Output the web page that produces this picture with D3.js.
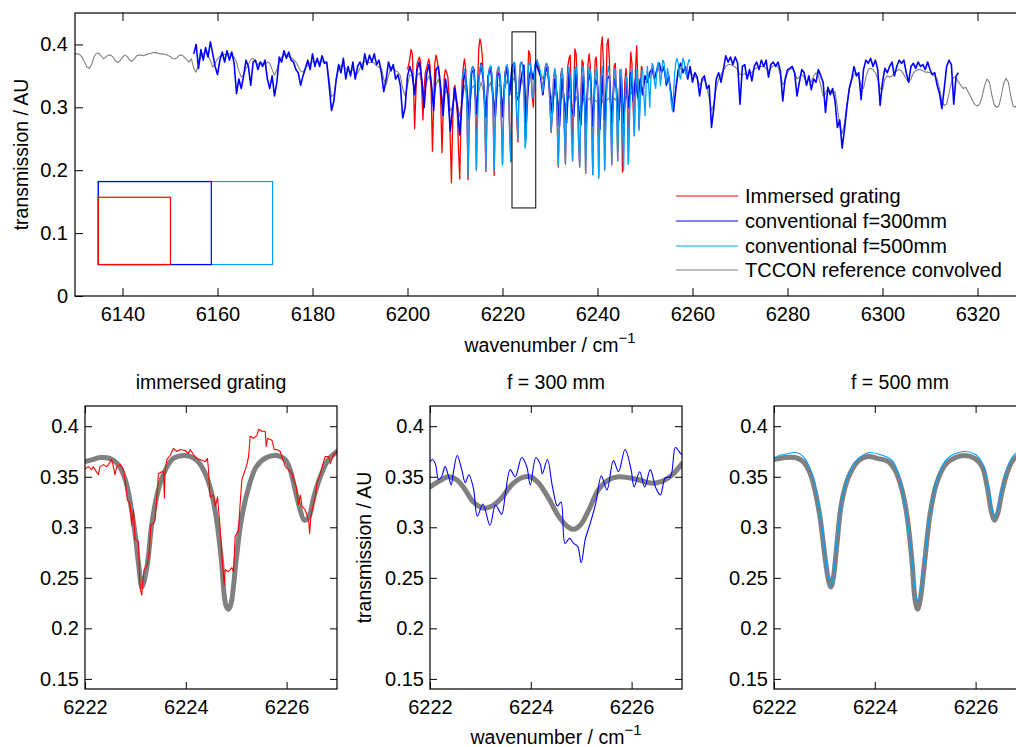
<!DOCTYPE html>
<html>
<head>
<meta charset="utf-8">
<script src="https://cdn.jsdelivr.net/npm/d3@7"></script>
<style>
  html, body { margin: 0; padding: 0; background: #fff; overflow: hidden; }
  svg { display: block; }
</style>
</head>
<body>
<svg id="chart" width="1016" height="747"></svg>
<script>
// ---------------------------------------------------------------------------
// Overview spectra: regularly sampled transmission, [first wavenumber, step]
// ---------------------------------------------------------------------------
const tcconStart = 6130, tcconStep = 0.5;
const tccon = [
  0.385,0.385,0.384,0.380,0.372,0.364,0.362,0.368,0.380,0.386, // 6130
  0.386,0.382,0.377,0.380,0.383,0.383,0.380,0.374,0.371,0.374, // 6135
  0.380,0.383,0.381,0.375,0.373,0.377,0.382,0.383,0.383,0.382, // 6140
  0.384,0.385,0.386,0.387,0.387,0.386,0.385,0.385,0.384,0.383, // 6145
  0.381,0.378,0.377,0.379,0.383,0.383,0.380,0.376,0.372,0.377, // 6150
  0.362,0.356,0.367,0.380,0.386,0.388,0.382,0.375,0.364,0.370, // 6155
  0.377,0.381,0.383,0.384,0.385,0.385,0.384,0.380,0.372,0.358, // 6160
  0.348,0.352,0.362,0.368,0.376,0.378,0.372,0.368,0.372,0.370, // 6165
  0.368,0.372,0.370,0.360,0.351,0.360,0.372,0.380,0.383,0.383, // 6170
  0.381,0.379,0.376,0.372,0.365,0.358,0.356,0.362,0.367,0.370, // 6175
  0.372,0.373,0.372,0.372,0.373,0.373,0.370,0.345,0.317,0.320, // 6180
  0.345,0.360,0.367,0.366,0.362,0.358,0.357,0.360,0.356,0.354, // 6185
  0.362,0.370,0.373,0.372,0.371,0.372,0.370,0.366,0.364,0.362, // 6190
  0.345,0.336,0.350,0.364,0.362,0.358,0.356,0.350,0.330,0.318, // 6195
  0.335,0.352,0.350,0.330,0.350,0.355,0.340,0.320,0.340,0.350, // 6200
  0.335,0.312,0.335,0.345,0.330,0.305,0.325,0.325,0.295,0.300, // 6205
  0.320,0.305,0.285,0.310,0.335,0.320,0.295,0.330,0.335,0.300, // 6210
  0.325,0.340,0.325,0.295,0.330,0.340,0.315,0.300,0.335,0.335, // 6215
  0.305,0.330,0.345,0.325,0.339,0.348,0.322,0.323,0.349,0.330, // 6220
  0.300,0.333,0.350,0.344,0.363,0.365,0.355,0.345,0.355,0.350, // 6225
  0.325,0.310,0.325,0.315,0.300,0.320,0.310,0.300,0.320,0.305, // 6230
  0.300,0.318,0.302,0.298,0.315,0.298,0.312,0.315,0.296,0.312, // 6235
  0.308,0.295,0.312,0.300,0.312,0.315,0.300,0.315,0.310,0.300, // 6240
  0.318,0.300,0.318,0.310,0.325,0.318,0.330,0.322,0.335,0.330, // 6245
  0.340,0.342,0.348,0.355,0.350,0.356,0.362,0.358,0.360,0.348, // 6250
  0.345,0.320,0.300,0.330,0.355,0.362,0.360,0.360,0.355,0.355, // 6255
  0.352,0.350,0.345,0.335,0.342,0.345,0.332,0.315,0.295,0.305, // 6260
  0.330,0.345,0.352,0.358,0.365,0.368,0.368,0.366,0.364,0.360, // 6265
  0.352,0.352,0.354,0.350,0.352,0.356,0.360,0.363,0.364,0.365, // 6270
  0.365,0.362,0.358,0.363,0.366,0.367,0.364,0.352,0.336,0.342, // 6275
  0.355,0.360,0.362,0.355,0.345,0.348,0.352,0.348,0.340,0.345, // 6280
  0.340,0.350,0.355,0.350,0.335,0.318,0.322,0.330,0.326,0.322, // 6285
  0.325,0.300,0.270,0.258,0.275,0.305,0.328,0.342,0.352,0.355, // 6290
  0.348,0.335,0.330,0.348,0.360,0.362,0.360,0.355,0.345,0.330, // 6295
  0.328,0.345,0.350,0.348,0.350,0.355,0.358,0.360,0.358,0.352, // 6300
  0.345,0.340,0.345,0.355,0.358,0.360,0.360,0.358,0.356,0.356, // 6305
  0.355,0.352,0.350,0.345,0.330,0.310,0.303,0.305,0.322,0.340, // 6310
  0.348,0.347,0.340,0.335,0.330,0.332,0.325,0.318,0.310,0.304, // 6315
  0.302,0.306,0.318,0.335,0.345,0.340,0.320,0.305,0.300,0.302, // 6320
  0.318,0.338,0.346,0.340,0.318,0.302,0.300,0.310,0.330,0.345, // 6325
  0.348                                                        // 6330
];

const f300Start = 6155, f300Step = 0.5;
const f300 = [
  0.385,0.400,0.362,0.392,0.375,0.395,0.380,0.404,0.385,0.365, // 6155
  0.352,0.375,0.388,0.372,0.390,0.375,0.388,0.370,0.322,0.345, // 6160
  0.330,0.350,0.375,0.365,0.335,0.372,0.375,0.360,0.372,0.365, // 6165
  0.375,0.345,0.330,0.350,0.318,0.340,0.380,0.372,0.390,0.378, // 6170
  0.388,0.375,0.372,0.360,0.355,0.335,0.350,0.362,0.375,0.360, // 6175
  0.385,0.365,0.378,0.365,0.382,0.370,0.372,0.335,0.295,0.310, // 6180
  0.345,0.368,0.355,0.378,0.345,0.365,0.350,0.372,0.345,0.365, // 6185
  0.372,0.360,0.385,0.368,0.383,0.372,0.385,0.368,0.375,0.355, // 6190
  0.325,0.345,0.372,0.358,0.368,0.345,0.352,0.335,0.283,0.300, // 6195
  0.350,0.365,0.352,0.320,0.360,0.372,0.345,0.300,0.352,0.368, // 6200
  0.340,0.295,0.360,0.365,0.330,0.287,0.345,0.320,0.262,0.300, // 6205
  0.330,0.300,0.256,0.310,0.360,0.330,0.280,0.355,0.360,0.290, // 6210
  0.345,0.370,0.340,0.285,0.350,0.365,0.320,0.285,0.355,0.350, // 6215
  0.285,0.345,0.365,0.320,0.365,0.371,0.312,0.318,0.350,0.367, // 6220
  0.275,0.345,0.360,0.345,0.372,0.360,0.350,0.320,0.355,0.365, // 6225
  0.320,0.290,0.345,0.320,0.270,0.345,0.310,0.275,0.355,0.300, // 6230
  0.285,0.360,0.300,0.272,0.350,0.275,0.340,0.355,0.270,0.345, // 6235
  0.335,0.265,0.350,0.280,0.345,0.350,0.275,0.345,0.330,0.280, // 6240
  0.350,0.275,0.340,0.300,0.355,0.310,0.345,0.315,0.345,0.320, // 6245
  0.350,0.340,0.355,0.362,0.345,0.360,0.370,0.355,0.365,0.335, // 6250
  0.350,0.320,0.293,0.330,0.360,0.370,0.355,0.365,0.345,0.365, // 6255
  0.340,0.355,0.348,0.318,0.345,0.350,0.330,0.335,0.268,0.300, // 6260
  0.345,0.355,0.340,0.360,0.382,0.372,0.380,0.368,0.380,0.370, // 6265
  0.305,0.365,0.368,0.345,0.360,0.342,0.365,0.372,0.360,0.375, // 6270
  0.365,0.375,0.348,0.368,0.372,0.365,0.372,0.358,0.310,0.345, // 6275
  0.360,0.362,0.365,0.355,0.318,0.340,0.360,0.355,0.335,0.350, // 6280
  0.328,0.345,0.340,0.360,0.350,0.340,0.292,0.332,0.320,0.330, // 6285
  0.310,0.268,0.280,0.235,0.265,0.300,0.330,0.345,0.365,0.350, // 6290
  0.355,0.312,0.360,0.375,0.370,0.378,0.365,0.375,0.360,0.303, // 6295
  0.340,0.362,0.355,0.365,0.372,0.350,0.365,0.375,0.370,0.375, // 6300
  0.355,0.340,0.365,0.370,0.362,0.372,0.365,0.368,0.360,0.372, // 6305
  0.360,0.352,0.355,0.335,0.322,0.298,0.330,0.365,0.375,0.368, // 6310
  0.305,0.350,0.355                                            // 6315
];

const immersedStart = 6200, immersedStep = 0.25;
const immersed = [
  0.360,0.368,0.378,0.392,0.385,0.340,0.266,0.320, // 6200
  0.368,0.375,0.380,0.372,0.330,0.280,0.330,0.355, // 6202
  0.362,0.370,0.377,0.365,0.320,0.230,0.300,0.370, // 6204
  0.383,0.375,0.360,0.350,0.310,0.228,0.290,0.350, // 6206
  0.360,0.355,0.348,0.320,0.250,0.180,0.270,0.330, // 6208
  0.335,0.310,0.290,0.230,0.186,0.280,0.340,0.365, // 6210
  0.377,0.360,0.300,0.185,0.280,0.345,0.360,0.365, // 6212
  0.360,0.330,0.200,0.330,0.393,0.409,0.400,0.380, // 6214
  0.340,0.290,0.198,0.300,0.350,0.362,0.365,0.350, // 6216
  0.300,0.192,0.300,0.350,0.362,0.360,0.340,0.280, // 6218
  0.210,0.300,0.355,0.362,0.365,0.340,0.260,0.215, // 6220
  0.355,0.358,0.360,0.345,0.280,0.245,0.340,0.368, // 6222
  0.372,0.368,0.345,0.250,0.290,0.330,0.390,0.385, // 6224
  0.362,0.318,0.300,0.350,0.372,0.375,0.370,0.360, // 6226
  0.350,0.340,0.330,0.348,0.362,0.370,0.365,0.345, // 6228
  0.300,0.260,0.290,0.345,0.360,0.345,0.280,0.205, // 6230
  0.290,0.350,0.362,0.345,0.270,0.210,0.310,0.365, // 6232
  0.378,0.383,0.320,0.215,0.330,0.393,0.385,0.340, // 6234
  0.250,0.205,0.320,0.375,0.370,0.320,0.195,0.290, // 6236
  0.370,0.385,0.365,0.290,0.193,0.310,0.375,0.380, // 6238
  0.340,0.190,0.300,0.395,0.412,0.370,0.200,0.300, // 6240
  0.400,0.409,0.375,0.300,0.210,0.310,0.365,0.370, // 6242
  0.320,0.215,0.300,0.360,0.350,0.197,0.260,0.340, // 6244
  0.362,0.330,0.210,0.340,0.388,0.370,0.300,0.255, // 6246
  0.360,0.398,0.340,0.266,0.330,0.365,0.360        // 6248
];

const f500Start = 6211.5, f500Step = 0.25;
const f500 = [
  0.345,0.355,0.360,0.350,0.300,0.190,0.290,0.345, // 6211.5
  0.362,0.365,0.355,0.320,0.200,0.280,0.340,0.360, // 6213.5
  0.368,0.362,0.345,0.300,0.200,0.295,0.345,0.362, // 6215.5
  0.366,0.355,0.310,0.200,0.300,0.345,0.362,0.365, // 6217.5
  0.350,0.290,0.208,0.300,0.350,0.365,0.368,0.350, // 6219.5
  0.260,0.213,0.330,0.365,0.372,0.360,0.290,0.250, // 6221.5
  0.340,0.370,0.372,0.362,0.330,0.235,0.250,0.330, // 6223.5
  0.366,0.373,0.360,0.318,0.315,0.355,0.372,0.375, // 6225.5
  0.370,0.365,0.355,0.340,0.325,0.345,0.365,0.370, // 6227.5
  0.365,0.345,0.300,0.262,0.290,0.345,0.362,0.350, // 6229.5
  0.290,0.208,0.290,0.345,0.362,0.345,0.270,0.213, // 6231.5
  0.310,0.355,0.365,0.345,0.260,0.215,0.320,0.360, // 6233.5
  0.365,0.340,0.250,0.205,0.310,0.358,0.365,0.330, // 6235.5
  0.195,0.280,0.345,0.365,0.355,0.290,0.193,0.300, // 6237.5
  0.355,0.362,0.335,0.187,0.280,0.350,0.365,0.345, // 6239.5
  0.200,0.270,0.348,0.365,0.355,0.290,0.208,0.300, // 6241.5
  0.355,0.362,0.320,0.215,0.300,0.355,0.360,0.290, // 6243.5
  0.200,0.300,0.350,0.345,0.210,0.280,0.345,0.362, // 6245.5
  0.330,0.255,0.320,0.360,0.345,0.263,0.310,0.355, // 6247.5
  0.360,0.320,0.287,0.335,0.365,0.340,0.300,0.345, // 6249.5
  0.370,0.365,0.340,0.330,0.360,0.372,0.362,0.335, // 6251.5
  0.355,0.375,0.372,0.350,0.340,0.362,0.350,0.330, // 6253.5
  0.310,0.295,0.320,0.355,0.372,0.378,0.370,0.350, // 6255.5
  0.345,0.365,0.378,0.372,0.355,0.350,0.368,0.376, // 6257.5
  0.372                                            // 6259.5
];

// Spectrometer footprint boxes and the zoom window drawn in the overview
const footprintNames = ["f500", "f300", "immersed"];
const footprintX0 = [6134.9, 6134.9, 6134.9];
const footprintX1 = [6171.6, 6158.7, 6150.1];
const footprintY0 = [0.05, 0.05, 0.05];
const footprintY1 = [0.182, 0.182, 0.157];
const zoomWindow = [6222, 6227, 0.14, 0.42];

const topXTicks = [6140, 6160, 6180, 6200, 6220, 6240, 6260, 6280, 6300, 6320];
const topYTicks = [0, 0.1, 0.2, 0.3, 0.4];
const legendLabels = ["Immersed grating", "conventional f=300mm", "conventional f=500mm", "TCCON reference convolved"];

// ---------------------------------------------------------------------------
// Detail window 6222-6227 cm-1: [wavenumber, transmission]
// ---------------------------------------------------------------------------
const refImmersed = [
  [6222.0,0.365],[6222.15,0.367],[6222.3,0.369],[6222.5,0.368],[6222.66,0.362],[6222.8,0.347],
  [6222.9,0.324],[6223.0,0.291],[6223.06,0.265],[6223.13,0.241],[6223.23,0.261],[6223.32,0.301],
  [6223.42,0.330],[6223.56,0.353],[6223.75,0.368],[6224.0,0.371],[6224.2,0.367],[6224.35,0.357],
  [6224.48,0.340],[6224.6,0.311],[6224.7,0.271],[6224.8,0.222],[6224.85,0.219],[6224.9,0.225],
  [6225.0,0.268],[6225.1,0.307],[6225.25,0.340],[6225.4,0.360],[6225.6,0.369],[6225.8,0.371],
  [6225.97,0.367],[6226.07,0.357],[6226.17,0.337],[6226.27,0.317],[6226.35,0.307],[6226.44,0.310],
  [6226.54,0.330],[6226.67,0.350],[6226.83,0.367],[6227.0,0.375]
];
const measImmersed = [
  [6222.000,0.358],[6222.066,0.360],[6222.132,0.357],[6222.166,0.360],[6222.199,0.357],[6222.265,0.352],
  [6222.298,0.360],[6222.364,0.362],[6222.430,0.360],[6222.464,0.362],[6222.530,0.367],[6222.563,0.360],
  [6222.596,0.352],[6222.629,0.360],[6222.695,0.362],[6222.762,0.357],[6222.795,0.347],[6222.841,0.327],
  [6222.894,0.324],[6222.927,0.302],[6222.960,0.317],[6222.993,0.288],[6223.060,0.286],[6223.079,0.258],
  [6223.093,0.240],[6223.126,0.233],[6223.146,0.245],[6223.172,0.258],[6223.225,0.261],[6223.272,0.274],
  [6223.305,0.302],[6223.358,0.304],[6223.391,0.307],[6223.424,0.327],[6223.457,0.353],[6223.523,0.355],
  [6223.556,0.355],[6223.576,0.329],[6223.589,0.355],[6223.623,0.367],[6223.689,0.371],[6223.755,0.378],
  [6223.821,0.375],[6223.887,0.377],[6223.987,0.376],[6224.053,0.373],[6224.086,0.377],[6224.152,0.372],
  [6224.219,0.368],[6224.285,0.367],[6224.384,0.365],[6224.430,0.368],[6224.450,0.357],[6224.483,0.330],
  [6224.550,0.332],[6224.583,0.321],[6224.603,0.324],[6224.629,0.330],[6224.682,0.299],[6224.715,0.273],
  [6224.735,0.260],[6224.762,0.243],[6224.781,0.258],[6224.848,0.256],[6224.914,0.260],[6224.947,0.256],
  [6224.980,0.291],[6225.013,0.294],[6225.046,0.297],[6225.079,0.324],[6225.113,0.347],[6225.179,0.357],
  [6225.212,0.362],[6225.245,0.370],[6225.278,0.390],[6225.344,0.388],[6225.411,0.391],[6225.444,0.397],
  [6225.510,0.395],[6225.576,0.395],[6225.596,0.380],[6225.623,0.388],[6225.709,0.386],[6225.755,0.377],
  [6225.808,0.377],[6225.874,0.375],[6225.927,0.367],[6225.974,0.360],[6226.040,0.357],[6226.106,0.353],
  [6226.139,0.347],[6226.192,0.340],[6226.238,0.322],[6226.272,0.332],[6226.305,0.321],[6226.371,0.317],
  [6226.437,0.307],[6226.457,0.294],[6226.483,0.311],[6226.536,0.324],[6226.570,0.330],[6226.603,0.344],
  [6226.669,0.353],[6226.735,0.365],[6226.768,0.370],[6226.834,0.370],[6226.868,0.363],[6226.934,0.372],
  [6227.000,0.375]
];
const ref300 = [
  [6222.0,0.340],[6222.23,0.347],[6222.36,0.350],[6222.53,0.347],[6222.7,0.337],[6222.86,0.325],
  [6223.06,0.319],[6223.23,0.321],[6223.42,0.329],[6223.62,0.342],[6223.82,0.349],[6223.99,0.350],
  [6224.15,0.344],[6224.35,0.329],[6224.55,0.311],[6224.72,0.301],[6224.85,0.298],[6224.98,0.302],
  [6225.15,0.317],[6225.34,0.337],[6225.54,0.347],[6225.74,0.350],[6225.94,0.349],[6226.14,0.347],
  [6226.34,0.344],[6226.5,0.344],[6226.67,0.347],[6226.83,0.353],[6227.0,0.363]
];
const meas300 = [
  [6222.00,0.365],[6222.05,0.367],[6222.11,0.362],[6222.17,0.347],[6222.23,0.350],[6222.30,0.360],
  [6222.36,0.352],[6222.42,0.342],[6222.46,0.353],[6222.54,0.371],[6222.63,0.357],[6222.70,0.344],
  [6222.77,0.352],[6222.86,0.339],[6222.94,0.311],[6223.05,0.323],[6223.19,0.302],[6223.30,0.322],
  [6223.42,0.313],[6223.50,0.335],[6223.59,0.357],[6223.69,0.350],[6223.82,0.369],[6223.92,0.360],
  [6223.99,0.342],[6224.10,0.369],[6224.19,0.362],[6224.23,0.353],[6224.33,0.367],[6224.43,0.340],
  [6224.53,0.321],[6224.60,0.325],[6224.68,0.284],[6224.77,0.289],[6224.85,0.284],[6224.93,0.281],
  [6225.00,0.265],[6225.08,0.288],[6225.18,0.304],[6225.29,0.324],[6225.40,0.351],[6225.51,0.337],
  [6225.64,0.366],[6225.74,0.355],[6225.87,0.377],[6225.99,0.357],[6226.05,0.340],[6226.16,0.355],
  [6226.26,0.340],[6226.37,0.357],[6226.48,0.339],[6226.57,0.332],[6226.67,0.349],[6226.77,0.350],
  [6226.87,0.379],[6226.97,0.373],[6227.00,0.372]
];
const ref500 = [
  [6222.0,0.367],[6222.22,0.369],[6222.42,0.369],[6222.58,0.365],[6222.72,0.353],[6222.81,0.337],
  [6222.91,0.311],[6223.01,0.271],[6223.08,0.248],[6223.13,0.241],[6223.18,0.251],[6223.25,0.284],
  [6223.34,0.324],[6223.48,0.350],[6223.68,0.366],[6223.87,0.370],[6224.07,0.368],[6224.27,0.365],
  [6224.4,0.357],[6224.54,0.337],[6224.64,0.311],[6224.74,0.265],[6224.8,0.228],[6224.85,0.219],
  [6224.9,0.228],[6225.0,0.271],[6225.1,0.314],[6225.23,0.344],[6225.4,0.362],[6225.6,0.369],
  [6225.79,0.371],[6225.99,0.368],[6226.13,0.360],[6226.23,0.340],[6226.32,0.314],[6226.38,0.307],
  [6226.44,0.314],[6226.52,0.334],[6226.62,0.353],[6226.75,0.367],[6226.92,0.372],[6227.0,0.373]
];
const meas500 = [
  [6222.0,0.368],[6222.1,0.371],[6222.2,0.372],[6222.3,0.373],[6222.4,0.374],[6222.5,0.373],
  [6222.6,0.369],[6222.7,0.360],[6222.8,0.345],[6222.9,0.318],[6223.0,0.280],[6223.08,0.250],
  [6223.13,0.241],[6223.18,0.252],[6223.25,0.286],[6223.35,0.327],[6223.5,0.354],[6223.7,0.369],
  [6223.9,0.374],[6224.1,0.372],[6224.3,0.368],[6224.4,0.362],[6224.5,0.346],[6224.6,0.322],
  [6224.7,0.285],[6224.8,0.240],[6224.85,0.227],[6224.9,0.235],[6225.0,0.272],[6225.1,0.316],
  [6225.25,0.348],[6225.4,0.366],[6225.6,0.373],[6225.8,0.375],[6226.0,0.372],[6226.15,0.362],
  [6226.25,0.342],[6226.33,0.318],[6226.38,0.310],[6226.44,0.317],[6226.52,0.338],[6226.62,0.358],
  [6226.75,0.371],[6226.9,0.376],[6227.0,0.377]
];
const detailXTicks = [6222, 6224, 6226];
const detailYTicks = [0.15, 0.2, 0.25, 0.3, 0.35, 0.4];
const detailTitles = ["immersed grating", "f = 300 mm", "f = 500 mm"];

// ---------------------------------------------------------------------------
// Drawing
// ---------------------------------------------------------------------------
const FONT = '"Liberation Sans", Arial, Helvetica, sans-serif';
const C_RED = "#ff0000", C_BLUE = "#0000ff", C_CYAN = "#00a2ff", C_GRAY = "#808080";

const svg = d3.select("#chart").attr("font-family", FONT);
const defs = svg.append("defs");

const sampled = (start, step, vals) => vals.map((v, i) => [start + i * step, v]);

function styleAxis(g, size) {
  g.attr("font-family", FONT).attr("font-size", size);
  g.select(".domain").remove();
  g.selectAll(".tick line").attr("stroke", "#000").attr("stroke-width", 1);
  g.selectAll(".tick text").attr("fill", "#000");
}

function addClip(id, x, y, w, h) {
  defs.append("clipPath").attr("id", id)
    .append("rect").attr("x", x).attr("y", y).attr("width", w).attr("height", h);
}

// ---- Overview panel ----
const T = { left: 75, top: 13, right: 1025, bottom: 296 };
const xTop = d3.scaleLinear().domain([6130, 6330]).range([T.left, T.right]);
const yTop = d3.scaleLinear().domain([0, 0.45]).range([T.bottom, T.top]);
addClip("clipTop", T.left, T.top, T.right - T.left, T.bottom - T.top);

const gTop = svg.append("g");
const plotTop = gTop.append("g").attr("clip-path", "url(#clipTop)");
const lineTop = d3.line().x(d => xTop(d[0])).y(d => yTop(d[1]));

// footprint boxes
const footColors = { f500: C_CYAN, f300: C_BLUE, immersed: C_RED };
footprintNames.forEach((n, i) => {
  plotTop.append("rect")
    .attr("x", xTop(footprintX0[i])).attr("y", yTop(footprintY1[i]))
    .attr("width", xTop(footprintX1[i]) - xTop(footprintX0[i]))
    .attr("height", yTop(footprintY0[i]) - yTop(footprintY1[i]))
    .attr("fill", "none").attr("stroke", footColors[n]).attr("stroke-width", 1.2);
});

const topSeries = [
  { pts: sampled(tcconStart, tcconStep, tccon), color: C_GRAY, w: 1.1 },
  { pts: sampled(immersedStart, immersedStep, immersed), color: C_RED, w: 1.3 },
  { pts: sampled(f300Start, f300Step, f300), color: C_BLUE, w: 1.6 },
  { pts: sampled(f500Start, f500Step, f500), color: C_CYAN, w: 1.3 }
];
topSeries.forEach(s => {
  plotTop.append("path").datum(s.pts).attr("d", lineTop)
    .attr("fill", "none").attr("stroke", s.color).attr("stroke-width", s.w)
    .attr("stroke-linejoin", "round");
});

// zoom window
plotTop.append("rect")
  .attr("x", xTop(zoomWindow[0])).attr("y", yTop(zoomWindow[3]))
  .attr("width", xTop(zoomWindow[1]) - xTop(zoomWindow[0]))
  .attr("height", yTop(zoomWindow[2]) - yTop(zoomWindow[3]))
  .attr("fill", "none").attr("stroke", "#000").attr("stroke-width", 1);

// axes
gTop.append("g").attr("transform", `translate(0,${T.bottom})`)
  .call(d3.axisBottom(xTop).tickValues(topXTicks).tickSizeInner(-8).tickSizeOuter(0)
    .tickPadding(11).tickFormat(d3.format("d")))
  .call(g => styleAxis(g, 20));
gTop.append("g").attr("transform", `translate(0,${T.top})`)
  .call(d3.axisTop(xTop).tickValues(topXTicks).tickSizeInner(-8).tickSizeOuter(0).tickFormat(""))
  .call(g => styleAxis(g, 20));
gTop.append("g").attr("transform", `translate(${T.left},0)`)
  .call(d3.axisLeft(yTop).tickValues(topYTicks).tickSizeInner(-8).tickSizeOuter(0)
    .tickPadding(7).tickFormat(d => d === 0 ? "0" : d3.format(".1f")(d)))
  .call(g => styleAxis(g, 20));
gTop.append("rect").attr("x", T.left).attr("y", T.top)
  .attr("width", T.right - T.left).attr("height", T.bottom - T.top)
  .attr("fill", "none").attr("stroke", "#000").attr("stroke-width", 1.2);

gTop.append("text").attr("transform", `translate(28,${(T.top + T.bottom) / 2}) rotate(-90)`)
  .attr("text-anchor", "middle").attr("font-size", 19.5).attr("fill", "#000")
  .text("transmission / AU");

function wavenumberLabel(g, cx, y) {
  const t = g.append("text").attr("x", cx).attr("y", y).attr("text-anchor", "middle")
    .attr("font-size", 19.5).attr("fill", "#000");
  t.append("tspan").text("wavenumber / cm");
  t.append("tspan").attr("dy", -9).attr("font-size", 15).text("\u22121");
}
wavenumberLabel(gTop, 550, 352);

// legend
const legendColors = [C_RED, C_BLUE, C_CYAN, C_GRAY];
const legendRows = [196, 221, 246, 270];
legendLabels.forEach((lab, i) => {
  gTop.append("line").attr("x1", 676).attr("x2", 738)
    .attr("y1", legendRows[i]).attr("y2", legendRows[i])
    .attr("stroke", legendColors[i]).attr("stroke-width", 1.2);
  gTop.append("text").attr("x", 745).attr("y", legendRows[i] + 7)
    .attr("font-size", 20).attr("fill", "#000").text(lab);
});

// ---- Detail panels ----
const panels = [
  { left: 85,  ref: refImmersed, meas: measImmersed, color: C_RED },
  { left: 430, ref: ref300,      meas: meas300,      color: C_BLUE },
  { left: 774, ref: ref500,      meas: meas500,      color: C_CYAN }
];
const P = { width: 252, top: 406, bottom: 689 };

panels.forEach((p, i) => {
  const x = d3.scaleLinear().domain([zoomWindow[0], zoomWindow[1]]).range([p.left, p.left + P.width]);
  const y = d3.scaleLinear().domain([zoomWindow[2], zoomWindow[3]]).range([P.bottom, P.top]);
  const g = svg.append("g");
  addClip("clipP" + i, p.left, P.top, P.width, P.bottom - P.top);
  const plot = g.append("g").attr("clip-path", `url(#clipP${i})`);

  const smooth = d3.line().x(d => x(d[0])).y(d => y(d[1])).curve(d3.curveCatmullRom.alpha(0.5));
  const straight = d3.line().x(d => x(d[0])).y(d => y(d[1]));

  plot.append("path").datum(p.ref).attr("d", smooth)
    .attr("fill", "none").attr("stroke", C_GRAY).attr("stroke-width", 5)
    .attr("stroke-linejoin", "round").attr("stroke-linecap", "round");
  plot.append("path").datum(p.meas).attr("d", i === 0 ? straight : smooth)
    .attr("fill", "none").attr("stroke", p.color).attr("stroke-width", 1.1)
    .attr("stroke-linejoin", "round");

  g.append("g").attr("transform", `translate(0,${P.bottom})`)
    .call(d3.axisBottom(x).tickValues(detailXTicks).tickSizeInner(-7).tickSizeOuter(0)
      .tickPadding(11).tickFormat(d3.format("d")))
    .call(a => styleAxis(a, 20));
  g.append("g").attr("transform", `translate(0,${P.top})`)
    .call(d3.axisTop(x).tickValues(detailXTicks).tickSizeInner(-7).tickSizeOuter(0).tickFormat(""))
    .call(a => styleAxis(a, 20));
  g.append("g").attr("transform", `translate(${p.left},0)`)
    .call(d3.axisLeft(y).tickValues(detailYTicks).tickSizeInner(-7).tickSizeOuter(0)
      .tickPadding(6).tickFormat(d => String(+d.toFixed(2))))
    .call(a => styleAxis(a, 20));
  g.append("g").attr("transform", `translate(${p.left + P.width},0)`)
    .call(d3.axisRight(y).tickValues(detailYTicks).tickSizeInner(-7).tickSizeOuter(0).tickFormat(""))
    .call(a => styleAxis(a, 20));
  g.append("rect").attr("x", p.left).attr("y", P.top)
    .attr("width", P.width).attr("height", P.bottom - P.top)
    .attr("fill", "none").attr("stroke", "#000").attr("stroke-width", 1.2);

  g.append("text").attr("x", p.left + P.width / 2).attr("y", 389)
    .attr("text-anchor", "middle").attr("font-size", 19.5).attr("fill", "#000")
    .text(detailTitles[i]);

  if (i === 1) {
    g.append("text").attr("transform", `translate(371,${(P.top + P.bottom) / 2}) rotate(-90)`)
      .attr("text-anchor", "middle").attr("font-size", 19.5).attr("fill", "#000")
      .text("transmission / AU");
    wavenumberLabel(g, p.left + P.width / 2, 744);
  }
});
</script>
</body>
</html>
